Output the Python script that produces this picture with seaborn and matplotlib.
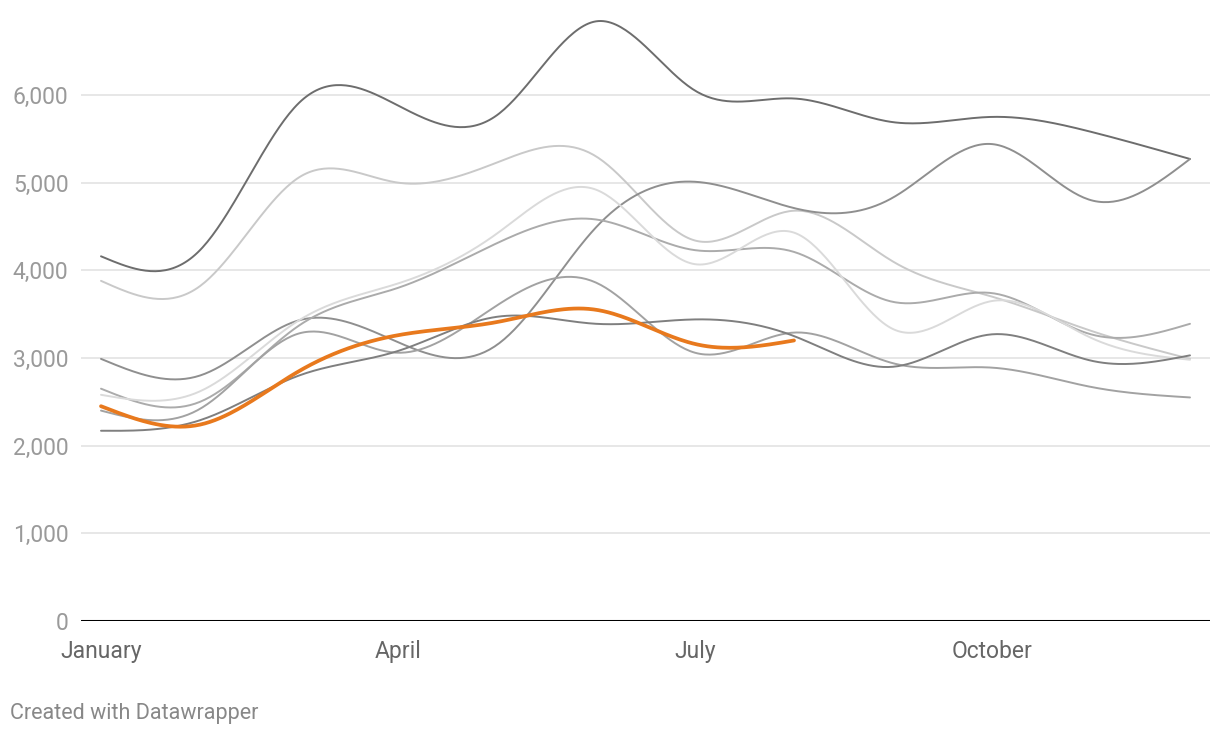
import numpy as np
import pandas as pd
import seaborn as sns
import matplotlib.pyplot as plt
from matplotlib.ticker import FuncFormatter

# monthly values
months = ['January', 'February', 'March', 'April', 'May', 'June', 'July',
          'August', 'September', 'October', 'November', 'December']
tick_months = ['January', 'April', 'July', 'October']

series_a = [4160, 4230, 5910, 5880, 5770, 6840, 6050, 5960, 5690, 5750, 5580, 5270]
series_b = [3880, 3820, 5060, 5000, 5230, 5300, 4340, 4680, 4100, 3700, 3310, 2990]
series_c = [2990, 2800, 3430, 3180, 3150, 4490, 5010, 4710, 4830, 5440, 4800, 5270]
series_d = [2650, 2500, 3370, 3800, 4310, 4580, 4230, 4210, 3640, 3740, 3270, 3390]
series_e = [2580, 2620, 3430, 3850, 4420, 4920, 4070, 4430, 3330, 3650, 3230, 2980]
series_f = [2400, 2420, 3280, 3060, 3600, 3860, 3060, 3290, 2940, 2890, 2670, 2550]
series_g = [2170, 2290, 2800, 3080, 3470, 3390, 3440, 3250, 2900, 3270, 2970, 3030]
highlight = [2450, 2240, 2850, 3260, 3410, 3550, 3160, 3200]

grey_series = {
    'a': (series_a, '#6d6d6d'),
    'b': (series_b, '#c9c9c9'),
    'c': (series_c, '#8f8f8f'),
    'd': (series_d, '#ababab'),
    'e': (series_e, '#dadada'),
    'f': (series_f, '#a2a2a2'),
    'g': (series_g, '#7f7f7f'),
}


def natural_curve(vals, steps=40):
    # natural cubic spline through the monthly points (like d3.curveNatural)
    y = np.asarray(vals, dtype=float)
    k = len(y)
    A = np.zeros((k, k))
    r = np.zeros(k)
    A[0, 0] = A[-1, -1] = 1
    for i in range(1, k - 1):
        A[i, i - 1], A[i, i], A[i, i + 1] = 1, 4, 1
        r[i] = 6 * (y[i - 1] - 2 * y[i] + y[i + 1])
    M = np.linalg.solve(A, r)
    xs = np.linspace(0, k - 1, (k - 1) * steps + 1)
    i = np.minimum(xs.astype(int), k - 2)
    t = xs - i
    ys = ((1 - t) * y[i] + t * y[i + 1]
          + ((1 - t) ** 3 - (1 - t)) * M[i] / 6 + (t ** 3 - t) * M[i + 1] / 6)
    return pd.DataFrame({'month': xs, 'value': ys})


sns.set_theme(style='white')
plt.rcParams['font.family'] = ['Roboto', 'DejaVu Sans']

fig = plt.figure(figsize=(12.2, 7.38), dpi=100)
ax = fig.add_axes([81 / 1220, 1 - 621 / 738, (1210 - 81) / 1220, (621 - 11.7) / 738])

for name, (vals, col) in grey_series.items():
    sns.lineplot(data=natural_curve(vals), x='month', y='value', color=col,
                 linewidth=1.4, ax=ax, estimator=None, sort=False)
sns.lineplot(data=natural_curve(highlight), x='month', y='value', color='#e8791d',
             linewidth=2.7, ax=ax, estimator=None, sort=False)

ax.set_xlim(-20 / 99, 11 + 20 / 99)
ax.set_ylim(0, 6950)
ax.set_yticks([0, 1000, 2000, 3000, 4000, 5000, 6000])
ax.yaxis.set_major_formatter(FuncFormatter(lambda v, p: f'{int(v):,}'))
ax.set_xticks([months.index(m) for m in tick_months])
ax.set_xticklabels(tick_months)
ax.set_xlabel('')
ax.set_ylabel('')
for s in ax.spines.values():
    s.set_visible(False)
ax.grid(axis='y', color='#e3e3e3', linewidth=1.2)
ax.set_axisbelow(True)
ax.axhline(0, color='#000000', linewidth=2.2, zorder=5)
ax.tick_params(axis='y', length=0, pad=9, labelsize=16.5, labelcolor='#9a9a9a')
ax.tick_params(axis='x', length=0, pad=14, labelsize=16.5, labelcolor='#666666')

fig.text(10 / 1220, 1 - 714 / 738, 'Created with Datawrapper', fontsize=15.5,
         color='#888888', va='center', ha='left')

fig.savefig('out.png', dpi=100)
